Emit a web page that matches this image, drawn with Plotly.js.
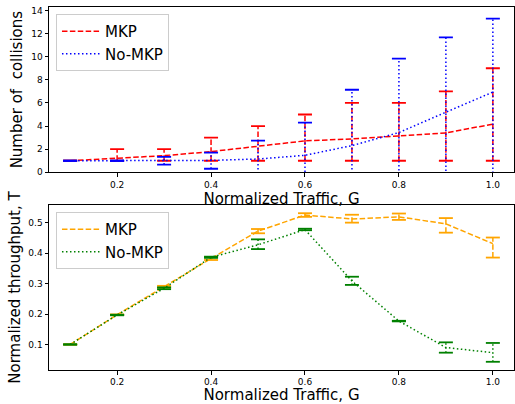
<!DOCTYPE html>
<html>
<head>
<meta charset="utf-8">
<script src="https://cdn.plot.ly/plotly-3.0.1.min.js"></script>
<style>html,body{margin:0;padding:0;background:#fff;}#chart{width:515px;height:404px;}</style>
</head>
<body>
<div id="chart"></div>
<script>
// ---- data ----
const traffic = [0.1, 0.2, 0.3, 0.4, 0.5, 0.6, 0.7, 0.8, 0.9, 1.0];
const trafficTicks = [0.2, 0.4, 0.6, 0.8, 1.0];
const trafficTickLabels = ["0.2", "0.4", "0.6", "0.8", "1.0"];

// collisions
const collMKP = [1.0, 1.21, 1.44, 1.79, 2.28, 2.72, 2.89, 3.12, 3.41, 4.17];
const collMKPHi = [1.0, 2.0, 2.0, 3.0, 4.0, 5.0, 6.0, 6.0, 7.0, 9.0];
const collMKPLo = [1.0, 1.0, 1.0, 1.0, 1.0, 1.0, 1.0, 1.0, 1.0, 1.0];
const collNoMKP = [1.0, 1.0, 1.0, 1.03, 1.15, 1.47, 2.31, 3.44, 5.2, 6.94];
const collNoMKPHi = [1.0, 1.0, 1.33, 1.7, 2.74, 4.3, 7.14, 9.83, 11.68, 13.3];
const collNoMKPLo = [1.0, 1.0, 0.67, 0.31, -0.44, -1.36, -2.52, -2.95, -1.28, -0.4];
const collTicks = [0, 2, 4, 6, 8, 10, 12, 14];

// throughput
const thrMKP = [0.100, 0.198, 0.290, 0.383, 0.473, 0.526, 0.513, 0.520, 0.497, 0.432];
const thrMKPHi = [0.101, 0.199, 0.293, 0.388, 0.480, 0.532, 0.527, 0.531, 0.516, 0.452];
const thrMKPLo = [0.099, 0.197, 0.287, 0.378, 0.466, 0.520, 0.501, 0.510, 0.468, 0.386];
const thrNoMKP = [0.100, 0.197, 0.285, 0.387, 0.428, 0.478, 0.309, 0.177, 0.090, 0.073];
const thrNoMKPHi = [0.101, 0.198, 0.288, 0.389, 0.446, 0.481, 0.323, 0.178, 0.107, 0.105];
const thrNoMKPLo = [0.099, 0.196, 0.282, 0.385, 0.414, 0.476, 0.296, 0.176, 0.073, 0.043];
const thrTicks = [0.1, 0.2, 0.3, 0.4, 0.5];

const seriesNames = ["MKP", "No-MKP"];

// ---- styles ----
const DASH = "5.5px,2.4px";
const DOT = "1.5px,2.5px";
const FONT = "DejaVu Sans";

function series(x, y, hi, lo, name, color, dash, xa, ya, legend) {
  const sx = [], sy = [], cx = [], cy = [];
  for (let i = 0; i < x.length; i++) {
    sx.push(x[i], x[i], null);
    sy.push(lo[i], hi[i], null);
    cx.push(x[i], x[i]);
    cy.push(lo[i], hi[i]);
  }
  return [
    {x: x, y: y, name: name, type: "scatter", mode: "lines", xaxis: xa, yaxis: ya, legend: legend,
     line: {color: color, width: 1.5, dash: dash}},
    {x: sx, y: sy, type: "scatter", mode: "lines", xaxis: xa, yaxis: ya, showlegend: false, hoverinfo: "skip",
     line: {color: color, width: 1.5, dash: dash}},
    {x: cx, y: cy, type: "scatter", mode: "markers", xaxis: xa, yaxis: ya, showlegend: false, hoverinfo: "skip",
     marker: {symbol: "line-ew-open", size: 10, color: color, line: {color: color, width: 1.8}}}
  ];
}

const data = [].concat(
  series(traffic, collMKP, collMKPHi, collMKPLo, seriesNames[0], "#ff0000", DASH, "x", "y", "legend"),
  series(traffic, collNoMKP, collNoMKPHi, collNoMKPLo, seriesNames[1], "#0000ff", DOT, "x", "y", "legend"),
  series(traffic, thrMKP, thrMKPHi, thrMKPLo, seriesNames[0], "#ffa500", DASH, "x2", "y2", "legend2"),
  series(traffic, thrNoMKP, thrNoMKPHi, thrNoMKPLo, seriesNames[1], "#008000", DOT, "x2", "y2", "legend2")
);

const axBase = {
  showline: true, mirror: true, linecolor: "#000", linewidth: 1,
  ticks: "outside", ticklen: 3.5, tickwidth: 1, tickcolor: "#000",
  showgrid: false, zeroline: false,
  tickfont: {family: FONT, size: 9, color: "#000"}
};

const legBase = {
  xanchor: "left", yanchor: "top", x: 0.015,
  bgcolor: "rgba(255,255,255,0.8)", bordercolor: "#cccccc", borderwidth: 1,
  font: {family: FONT, size: 15, color: "#000"}, tracegroupgap: 0, itemwidth: 38
};

const layout = {
  width: 515, height: 404,
  margin: {l: 49, r: 1, t: 7, b: 34},
  paper_bgcolor: "#fff", plot_bgcolor: "#fff",
  showlegend: true,
  font: {family: FONT, color: "#000"},
  xaxis: Object.assign({}, axBase, {anchor: "y", domain: [0, 1], range: [0.055, 1.045],
    tickvals: trafficTicks, ticktext: trafficTickLabels,
    title: {text: "Normalized Traffic, G", font: {family: FONT, size: 15, color: "#000"}, standoff: 2}}),
  yaxis: Object.assign({}, axBase, {anchor: "x", domain: [0.5446, 1], range: [0, 14.3],
    tickvals: collTicks,
    title: {text: "Number of  collisions", font: {family: FONT, size: 15, color: "#000"}, standoff: 4}}),
  xaxis2: Object.assign({}, axBase, {anchor: "y2", domain: [0, 1], range: [0.055, 1.045],
    tickvals: trafficTicks, ticktext: trafficTickLabels,
    title: {text: "Normalized Traffic, G", font: {family: FONT, size: 15, color: "#000"}, standoff: 2}}),
  yaxis2: Object.assign({}, axBase, {anchor: "x2", domain: [0, 0.4545], range: [0.016, 0.559],
    tickvals: thrTicks,
    title: {text: "Normalized throughput, T", font: {family: FONT, size: 15, color: "#000"}, standoff: 4}}),
  legend: Object.assign({}, legBase, {y: 0.981}),
  legend2: Object.assign({}, legBase, {y: 0.435})
};

Plotly.newPlot("chart", data, layout, {displayModeBar: false, staticPlot: true});
</script>
</body>
</html>
